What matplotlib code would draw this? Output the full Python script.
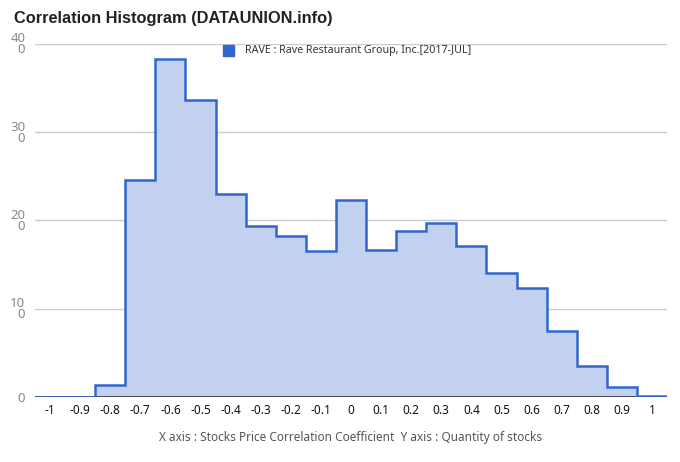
import numpy as np
import matplotlib.pyplot as plt

# correlation bins (centers) and stock counts
centers = [-1, -0.9, -0.8, -0.7, -0.6, -0.5, -0.4, -0.3, -0.2, -0.1, 0,
           0.1, 0.2, 0.3, 0.4, 0.5, 0.6, 0.7, 0.8, 0.9, 1]
counts = [0, 0, 1.4, 24.6, 38.3, 33.7, 23.0, 19.4, 18.3, 16.5, 22.3,
          16.7, 18.8, 19.7, 17.1, 14.1, 12.4, 7.5, 3.5, 1.15, 0.15]
yticks = [0, 10, 20, 30, 40]
ytick_labels = ['0', '10\n0', '20\n0', '30\n0', '40\n0']
xtick_labels = ['-1', '-0.9', '-0.8', '-0.7', '-0.6', '-0.5', '-0.4', '-0.3', '-0.2', '-0.1', '0',
                '0.1', '0.2', '0.3', '0.4', '0.5', '0.6', '0.7', '0.8', '0.9', '1']

plt.rcParams['font.family'] = ['Noto Sans', 'DejaVu Sans']

fig = plt.figure(figsize=(6.8, 4.62), dpi=100)
ax = fig.add_axes([35/680, 1-397/462, 632/680, 353/462])

c = np.array(centers)
edges = np.append(c - 0.05, c[-1] + 0.05)
blue = '#3366CC'
ax.stairs(counts, edges, fill=True, color='#C2D1F0', zorder=2)
ax.axhline(0, color='#333333', lw=1.2, zorder=2.5)
ax.stairs(counts, edges, baseline=None, color=blue, lw=1.8, zorder=3)

ax.set_xlim(-1.05, 1.05)
ax.set_ylim(0, 40)
ax.set_yticks(yticks)
ax.set_yticklabels(ytick_labels, color='#888888', fontsize=9.5, linespacing=0.8)
ax.set_xticks(centers)
ax.set_xticklabels(xtick_labels, fontsize=8.5, color='#111111')
ax.tick_params(length=0, pad=7)
ax.tick_params(axis='x', pad=5)
ax.grid(axis='y', color='#CCCCCC', lw=1, zorder=1)
for s in ax.spines.values():
    s.set_visible(False)

fig.text(14/680, 1-18/462, 'Correlation Histogram (DATAUNION.info)', fontsize=11.8,
         fontweight='bold', family='Liberation Sans', color='#222222', va='center')
fig.patches.append(plt.Rectangle((223/680, 1-56/462), 11/680, 11/462, color=blue,
                                 transform=fig.transFigure, figure=fig))
fig.text(245/680, 1-50/462, 'RAVE : Rave Restaurant Group, Inc.[2017-JUL]', fontsize=7.7,
         color='#333333', va='center')
fig.text(351/680, 1-437/462,
         'X axis : Stocks Price Correlation Coefficient  Y axis : Quantity of stocks',
         fontsize=8.5, color='#555555', ha='center', va='center')

fig.savefig('out.png', dpi=100)
